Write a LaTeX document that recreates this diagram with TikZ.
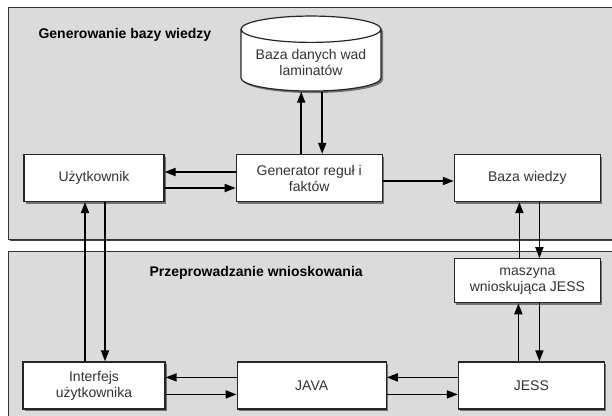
\documentclass[tikz,border=0pt]{standalone}
\usepackage{fontspec}
\setmainfont{Liberation Sans}
\usetikzlibrary{positioning,shapes.geometric,shadows,arrows.meta}
\tikzset{
  panel/.style={draw=black!80, line width=1pt, fill=black!14,
    drop shadow={shadow xshift=1.5pt, shadow yshift=-1.5pt, fill=black!75, opacity=1}},
  box/.style={draw=black!85, line width=1.2pt, fill=white, minimum width=146pt,
    minimum height=47pt, align=center, inner sep=2pt, text=black!80,
    font=\fontsize{14}{16}\selectfont,
    drop shadow={shadow xshift=2pt, shadow yshift=-2pt, fill=black!55, opacity=1}},
  dbase/.style={box, cylinder, shape border rotate=90, aspect=0.23,
    minimum height=75pt, minimum width=140pt},
  title/.style={anchor=west, font=\bfseries\fontsize{14}{16}\selectfont},
  arr/.style={line width=1.7pt, -{Triangle[length=11pt,width=8pt]}}
}
\begin{document}
\begin{tikzpicture}[x=1pt,y=-1pt]
  \useasboundingbox (0,0) rectangle (612,415);
  \draw[panel] (8,7) rectangle (640,239);
  \draw[panel] (8,251) rectangle (640,440);
  \node[title] (gtitle) at (35,35) {Generowanie bazy wiedzy};
  \node[title] (ptitle) at (146,273) {Przeprowadzanie wnioskowania};

  \node[box, minimum width=140pt] (user) at (94,178) {Użytkownik};
  \node[box, right=71pt of user] (gen) {Generator reguł i\\faktów};
  \node[box, right=71pt of gen] (baza) {Baza wiedzy};
  \node[dbase] (db) at (311,62) {Baza danych wad\\laminatów};
  \node[box, minimum height=44pt, below=56pt of baza] (masz) {maszyna\\wnioskująca JESS};
  \node[box, below=58pt of masz, xshift=4pt] (jess) {JESS};
  \node[box, minimum width=149pt, left=71pt of jess] (java) {JAVA};
  \node[box, minimum width=142pt, left=71pt of java] (inter) {Interfejs\\użytkownika};

  \draw[arr] ([xshift=-8pt]gen.north) -- ([xshift=-8pt]gen.north |- db.south);
  \draw[arr] ([xshift=13pt]gen.north |- db.south) -- ([xshift=13pt]gen.north);
  \draw[arr] ([yshift=6pt]gen.west) -- ([yshift=6pt]gen.west -| user.east);
  \draw[arr] ([yshift=-10pt]user.east) -- ([yshift=-10pt]user.east -| gen.west);
  \draw[arr] ([yshift=-3pt]gen.east) -- ([yshift=-3pt]gen.east -| baza.west);

  \draw[arr] ([xshift=-9pt]inter.north) -- ([xshift=-9pt]inter.north |- user.south);
  \draw[arr] ([xshift=11pt]user.south) -- ([xshift=11pt]user.south |- inter.north);

  \draw[arr] ([xshift=-8pt]masz.north) -- ([xshift=-8pt]masz.north |- baza.south);
  \draw[arr] ([xshift=12pt]baza.south) -- ([xshift=12pt]baza.south |- masz.north);
  \draw[arr] ([xshift=-9pt]masz.south |- jess.north) -- ([xshift=-9pt]masz.south);
  \draw[arr] ([xshift=12pt]masz.south) -- ([xshift=12pt]masz.south |- jess.north);

  \draw[arr] ([yshift=8pt]java.west) -- ([yshift=8pt]java.west -| inter.east);
  \draw[arr] ([yshift=-9pt]inter.east) -- ([yshift=-9pt]inter.east -| java.west);
  \draw[arr] ([yshift=8pt]jess.west) -- ([yshift=8pt]jess.west -| java.east);
  \draw[arr] ([yshift=-9pt]java.east) -- ([yshift=-9pt]java.east -| jess.west);
\end{tikzpicture}
\end{document}
